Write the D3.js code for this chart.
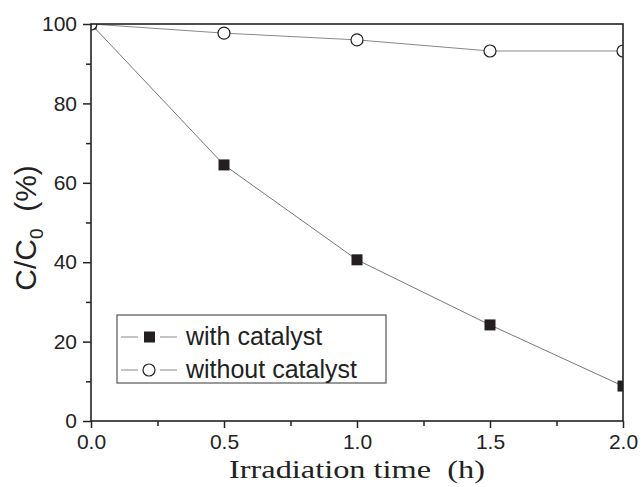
<!DOCTYPE html>
<html>
<head>
<meta charset="utf-8">
<script src="https://cdn.jsdelivr.net/npm/d3@7"></script>
<style>
  html, body { margin: 0; padding: 0; background: #fff; }
  svg { display: block; }
  .tick-label { font-family: "Liberation Sans", Arial, sans-serif; font-size: 21px; fill: #222; }
</style>
</head>
<body>
<div id="chart"></div>
<script>
// photocatalytic degradation, C/C0 vs irradiation time
const times = [0, 0.5, 1.0, 1.5, 2.0];
const withCatalyst = [100, 64.5, 40.6, 24.2, 8.8];
const withoutCatalyst = [100, 97.7, 96.0, 93.2, 93.2];
const xTicks = [0, 0.5, 1.0, 1.5, 2.0];
const yTicks = [0, 20, 40, 60, 80, 100];
const seriesNames = ["with catalyst", "without catalyst"];

const W = 642, H = 487;
const m = { left: 91, top: 24, right: 19, bottom: 66 };
const iw = W - m.left - m.right, ih = H - m.top - m.bottom;
const sans = "'Liberation Sans', Arial, sans-serif";

const svg = d3.select("#chart").append("svg").attr("width", W).attr("height", H);
const g = svg.append("g").attr("transform", `translate(${m.left},${m.top})`);

const x = d3.scaleLinear().domain([0, 2]).range([0, iw]);
const y = d3.scaleLinear().domain([0, 100]).range([ih, 0]);

svg.append("defs").append("clipPath").attr("id", "plot")
  .append("rect").attr("width", iw).attr("height", ih);

// minor ticks first, then major axes with labels
const minorX = d3.range(0.25, 2, 0.5);
const minorY = d3.range(10, 100, 20);
g.append("g").attr("transform", `translate(0,${ih})`)
  .call(d3.axisBottom(x).tickValues(minorX).tickSize(5).tickFormat(""))
  .call((a) => a.select(".domain").remove());
g.append("g")
  .call(d3.axisLeft(y).tickValues(minorY).tickSize(5).tickFormat(""))
  .call((a) => a.select(".domain").remove());

const xAxis = g.append("g").attr("transform", `translate(0,${ih})`)
  .call(d3.axisBottom(x).tickValues(xTicks).tickSize(7).tickPadding(6).tickFormat(d3.format(".1f")));
const yAxis = g.append("g")
  .call(d3.axisLeft(y).tickValues(yTicks).tickSize(8).tickPadding(6).tickFormat(d3.format("d")));
[xAxis, yAxis].forEach((a) => {
  a.select(".domain").remove();
  a.selectAll("text").attr("class", "tick-label");
});
g.selectAll("g").attr("font-family", null).attr("font-size", null);
g.selectAll(".tick line").attr("stroke", "#222").attr("stroke-width", 1.5);

// series lines + markers, clipped to frame
const plot = g.append("g").attr("clip-path", "url(#plot)");
const line = d3.line().x((d) => x(d[0])).y((d) => y(d[1]));
const ptsA = times.map((t, i) => [t, withCatalyst[i]]);
const ptsB = times.map((t, i) => [t, withoutCatalyst[i]]);

plot.append("path").datum(ptsA).attr("d", line)
  .attr("fill", "none").attr("stroke", "#777").attr("stroke-width", 1);
plot.append("path").datum(ptsB).attr("d", line)
  .attr("fill", "none").attr("stroke", "#888").attr("stroke-width", 1);

const sq = 11;
plot.selectAll("rect.sq").data(ptsA).join("rect").attr("class", "sq")
  .attr("x", (d) => x(d[0]) - sq / 2).attr("y", (d) => y(d[1]) - sq / 2)
  .attr("width", sq).attr("height", sq).attr("fill", "#231f20");
plot.selectAll("circle.ci").data(ptsB).join("circle").attr("class", "ci")
  .attr("cx", (d) => x(d[0])).attr("cy", (d) => y(d[1])).attr("r", 6)
  .attr("fill", "#fff").attr("stroke", "#231f20").attr("stroke-width", 1.2);

// frame
g.append("rect").attr("width", iw).attr("height", ih)
  .attr("fill", "none").attr("stroke", "#222").attr("stroke-width", 1.6);

// legend
const lg = g.append("g").attr("transform", "translate(26,291)");
lg.append("rect").attr("width", 269).attr("height", 68)
  .attr("fill", "#fff").attr("stroke", "#555").attr("stroke-width", 1.2);
seriesNames.forEach((name, i) => {
  const cy = 22 + i * 33;
  const row = lg.append("g").attr("transform", `translate(0,${cy})`);
  row.append("line").attr("x1", 4).attr("x2", 21).attr("stroke", "#888");
  row.append("line").attr("x1", 43).attr("x2", 60).attr("stroke", "#888");
  if (i === 0) {
    row.append("rect").attr("x", 27).attr("y", -5.5).attr("width", sq).attr("height", sq).attr("fill", "#231f20");
  } else {
    row.append("circle").attr("cx", 32).attr("r", 6).attr("fill", "#fff").attr("stroke", "#231f20").attr("stroke-width", 1.2);
  }
  row.append("text").attr("x", 69).attr("y", 8)
    .attr("font-family", sans).attr("font-size", 25).attr("fill", "#222")
    .text(name);
});

// axis titles (x title is drawn wide, as in the original figure)
svg.append("text").attr("x", 357).attr("y", 478).attr("text-anchor", "middle")
  .attr("font-family", "'Liberation Serif', 'Times New Roman', serif").attr("font-size", 26).attr("fill", "#222")
  .attr("textLength", 256).attr("lengthAdjust", "spacingAndGlyphs")
  .text("Irradiation time\u00a0\u00a0(h)");

const yt = svg.append("text").attr("transform", "translate(36,228) rotate(-90)").attr("text-anchor", "middle")
  .attr("font-family", sans).attr("font-size", 30).attr("fill", "#222");
yt.append("tspan").text("C/C");
yt.append("tspan").attr("font-size", 19).attr("dy", 7).text("0");
yt.append("tspan").attr("dy", -7).text("\u00a0\u00a0(%)");
</script>
</body>
</html>
